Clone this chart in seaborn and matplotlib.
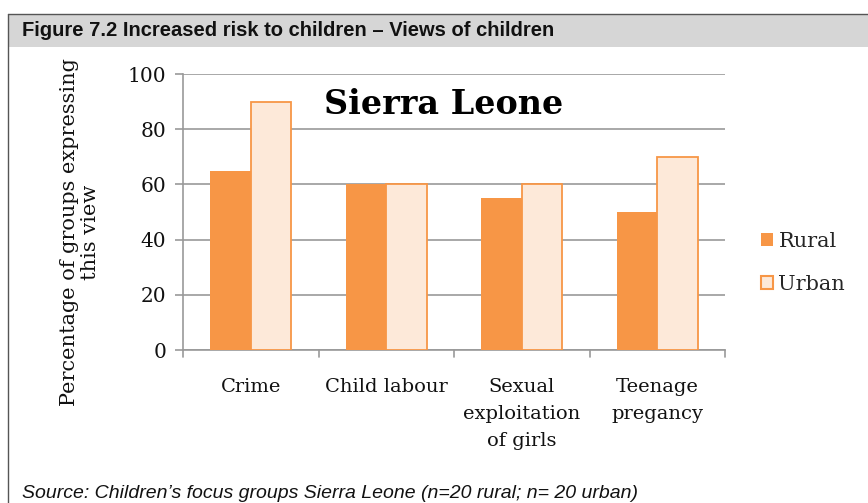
import matplotlib
matplotlib.use("Agg")
import matplotlib.pyplot as plt
import seaborn as sns
import pandas as pd
from matplotlib.patches import Rectangle
from matplotlib.lines import Line2D

categories = ["Crime", "Child labour", "Sexual\nexploitation\nof girls", "Teenage\npregancy"]
rural = [65, 60, 55, 50]
urban = [90, 60, 60, 70]
series = ["Rural", "Urban"]
yticks = [0, 20, 40, 60, 80, 100]

df = pd.DataFrame({
    "cat": categories * 2,
    "val": rural + urban,
    "series": ["Rural"] * 4 + ["Urban"] * 4,
})

sns.set_theme(style="white")
serif = ["DejaVu Serif"]
narrow = ["Liberation Sans Narrow", "Liberation Sans", "DejaVu Sans"]
plt.rcParams["font.family"] = serif

fig = plt.figure(figsize=(8.68, 5.03), dpi=100)
fig.patch.set_facecolor("white")

# header band and border
fig.patches.append(Rectangle((8/868, 1-47/503), 1, 33/503, transform=fig.transFigure,
                             facecolor="#d6d6d6", edgecolor="none", zorder=0))
fig.lines.append(Line2D([8/868, 1], [1-14/503, 1-14/503], transform=fig.transFigure, color="#555555", lw=1))
fig.lines.append(Line2D([8/868, 8/868], [0, 1-14/503], transform=fig.transFigure, color="#555555", lw=1))
fig.text(22/868, 1-31/503, "Figure 7.2 Increased risk to children \u2013 Views of children",
         family=narrow, fontsize=14.5, fontweight="bold", va="center", ha="left", color="#111111")

ax = fig.add_axes([183/868, 1-350/503, (725-183)/868, (350-74)/503])
sns.barplot(data=df, x="cat", y="val", hue="series", hue_order=series,
            palette={"Rural": "#F79646", "Urban": "#FDE9D9"}, width=0.6, saturation=1,
            edgecolor="none", ax=ax, legend=False, zorder=3)
for bar in ax.patches[4:8]:
    bar.set_edgecolor("#F79646")
    bar.set_linewidth(1.3)

ax.set_ylim(0, 100)
ax.set_xlim(-0.5, 3.5)
ax.set_yticks(yticks)
ax.set_yticklabels([str(v) for v in yticks], fontsize=14.5, color="#111111")
ax.yaxis.grid(True, color="#999999", lw=1.2, zorder=0)
ax.set_axisbelow(True)
for s in ["top", "right"]:
    ax.spines[s].set_visible(False)
ax.spines["left"].set_color("#999999")
ax.spines["bottom"].set_color("#999999")
ax.spines["left"].set_linewidth(1.2)
ax.spines["bottom"].set_linewidth(1.2)
ax.tick_params(axis="y", left=True, length=6, color="#999999", width=1.2, pad=6)
ax.set_xticks([0, 1, 2, 3])
ax.set_xticklabels(categories, fontsize=14, color="#111111")
for lab in ax.get_xticklabels():
    lab.set_linespacing(1.65)
ax.tick_params(axis="x", bottom=False, pad=14)
for b in [-0.5, 0.5, 1.5, 2.5, 3.5]:
    ax.plot([b, b], [0, -0.025], transform=ax.get_xaxis_transform(), color="#999999",
            lw=1.2, clip_on=False)
ax.set_xlabel("")
ax.set_ylabel("")
fig.text(80/868, 1-232/503, "Percentage of groups expressing\nthis view", rotation=90,
         fontsize=15, color="#111111", ha="center", va="center", linespacing=1.15)

ax.text(0.48, 0.89, "Sierra Leone", transform=ax.transAxes, fontsize=24, fontweight="bold",
        ha="center", va="center", color="black")

handles = [Rectangle((0, 0), 1, 1, facecolor="#F79646", edgecolor="none"),
           Rectangle((0, 0), 1, 1, facecolor="#FDE9D9", edgecolor="#F79646", lw=1.5)]
fig.legend(handles, series, loc="center left", bbox_to_anchor=(742/868, 1-263/503),
           frameon=False, fontsize=15, handlelength=0.6, handleheight=0.6,
           handletextpad=0.25, labelspacing=1.15)

fig.text(22/868, 1-493/503, "Source: Children\u2019s focus groups Sierra Leone (n=20 rural; n= 20 urban)",
         family=narrow, fontsize=14, style="italic", va="center", ha="left", color="#111111")

fig.savefig("out.png", dpi=100, facecolor="white")
